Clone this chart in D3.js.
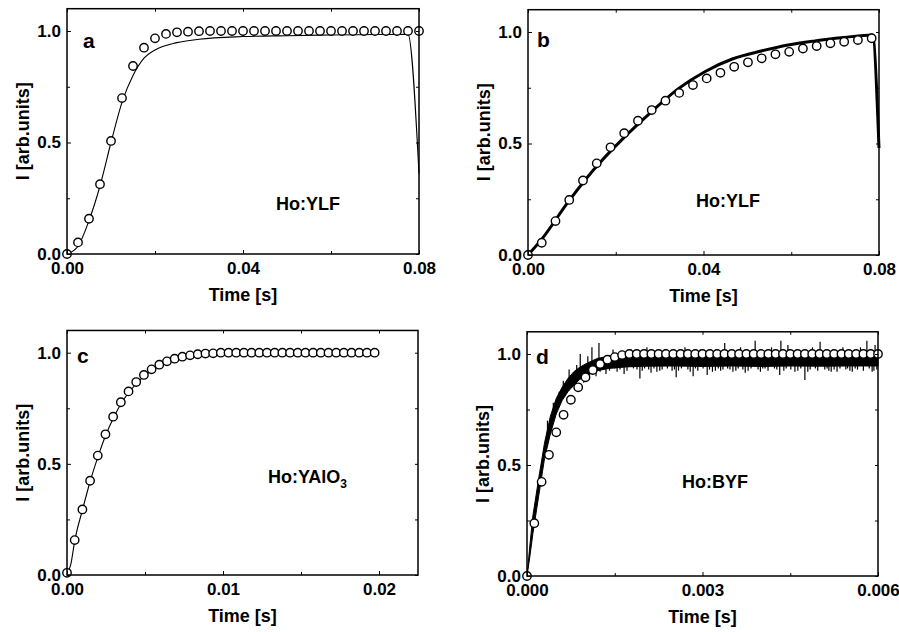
<!DOCTYPE html>
<html>
<head>
<meta charset="utf-8">
<script src="https://cdn.jsdelivr.net/npm/d3@7"></script>
<style>
body { margin: 0; background: #fff; }
svg { display: block; }
text { font-family: 'Liberation Sans', Arial, sans-serif; font-weight: bold; fill: #000; }
</style>
</head>
<body>
<script>
// ---- data ----
var panelLetters = ['a', 'b', 'c', 'd'];
var materials = ['Ho:YLF', 'Ho:YLF', 'Ho:YAlO', 'Ho:BYF'];
var materialSub = ['', '', '3', ''];
var xMax = [0.08, 0.08, 0.0225, 0.006];
var xMajor = [[0, 0.04, 0.08], [0, 0.04, 0.08], [0, 0.01, 0.02], [0, 0.003, 0.006]];
var xMinor = [[0.02, 0.06], [0.02, 0.06], [0.005, 0.015], [0.0015, 0.0045]];
var xFormat = ['.2f', '.2f', '.2f', '.3f'];
var yMajor = [0, 0.5, 1.0];
var yMinor = [0.25, 0.75];

// sampling step of the open circles (s)
var circleStep = [0.0025, 0.003133, 0.000493, 0.000125];

var circlesA = [0, 0.052, 0.158, 0.313, 0.507, 0.699, 0.843, 0.925, 0.967, 0.987, 0.994, 0.997, 0.999,
	1, 1, 1, 1, 1, 1, 1, 1, 1, 1, 1, 1, 1, 1, 1, 1, 1, 1, 1, 1];
var circlesB = [0, 0.055, 0.152, 0.247, 0.334, 0.411, 0.483, 0.546, 0.602, 0.65, 0.692, 0.727, 0.762,
	0.792, 0.817, 0.844, 0.864, 0.882, 0.9, 0.911, 0.926, 0.937, 0.949, 0.956, 0.964, 0.972];
var circlesC = [0.01, 0.157, 0.295, 0.424, 0.537, 0.633, 0.712, 0.777, 0.826, 0.868, 0.9, 0.925, 0.946,
	0.961, 0.973, 0.982, 0.988, 0.993, 0.996, 0.997,
	1, 1, 1, 1, 1, 1, 1, 1, 1, 1, 1, 1, 1, 1, 1, 1, 1, 1, 1, 1, 1];
var circlesD = [0, 0.238, 0.424, 0.546, 0.647, 0.726, 0.794, 0.85, 0.895, 0.928, 0.955, 0.974, 0.986, 0.995,
	1, 1, 1, 1, 1, 1, 1, 1, 1, 1, 1, 1, 1, 1, 1, 1, 1, 1, 1, 1, 1, 1, 1, 1, 1, 1, 1, 1, 1, 1, 1, 1, 1, 1, 1];

// measured traces
var lineAT = [0, 0.0025, 0.005, 0.0075, 0.01, 0.0125, 0.015, 0.0175, 0.02, 0.025, 0.03, 0.04, 0.05, 0.06, 0.07, 0.0775, 0.08];
var lineAV = [0, 0.035, 0.15, 0.305, 0.5, 0.68, 0.8, 0.878, 0.915, 0.948, 0.963, 0.975, 0.979, 0.982, 0.984, 0.985, 0.36];
var lineBT = [0, 0.0031, 0.0092, 0.0153, 0.0217, 0.0282, 0.0342, 0.0403, 0.0467, 0.0532, 0.0593, 0.0654, 0.0719, 0.0785, 0.08];
var lineBV = [0, 0.07, 0.239, 0.39, 0.523, 0.643, 0.745, 0.822, 0.88, 0.915, 0.942, 0.96, 0.975, 0.987, 0.48];
var lineCT = [0, 0.00025, 0.0005, 0.001, 0.0015, 0.002, 0.0025, 0.003, 0.0035, 0.004, 0.005, 0.006, 0.007, 0.008, 0.01, 0.013, 0.0197];
var lineCV = [0, 0.05, 0.155, 0.295, 0.425, 0.535, 0.632, 0.71, 0.775, 0.825, 0.898, 0.945, 0.972, 0.986, 0.996, 1, 1];

// panel d: noisy trace as a band (low/high envelope) plus single spikes
var bandDT = [0, 0.00005, 0.0001, 0.0002, 0.0003, 0.0004, 0.0005, 0.0006, 0.0007, 0.0008, 0.0009, 0.001,
	0.0012, 0.0014, 0.0017, 0.002, 0.0025, 0.003, 0.0035, 0.004, 0.0045, 0.005, 0.0055, 0.006];
var bandDLo = [0, 0.09, 0.19, 0.36, 0.53, 0.64, 0.73, 0.79, 0.83, 0.86, 0.885, 0.9,
	0.925, 0.935, 0.942, 0.945, 0.946, 0.944, 0.946, 0.944, 0.946, 0.945, 0.946, 0.946];
var bandDHi = [0, 0.14, 0.27, 0.44, 0.6, 0.72, 0.8, 0.85, 0.89, 0.92, 0.94, 0.955,
	0.98, 0.99, 0.995, 0.998, 1, 1, 1, 1, 1, 1, 1, 1];
var spikesD = [[0.00035, 0.70], [0.00045, 0.78], [0.00055, 0.83], [0.00062, 0.88], [0.00072, 0.93], [0.00078, 0.85],
	[0.00085, 0.95], [0.00091, 1.0], [0.00097, 0.87], [0.00104, 0.99], [0.00111, 1.03], [0.00118, 0.9], [0.00123, 1.05],
	[0.00135, 0.91], [0.00147, 1.02], [0.00154, 0.92], [0.00166, 0.91], [0.00178, 1.02], [0.00193, 0.89], [0.00205, 1.03],
	[0.00212, 0.915], [0.00222, 0.92], [0.00235, 1.02], [0.00248, 0.925], [0.00255, 0.895], [0.0027, 1.03], [0.00284, 0.9],
	[0.00296, 1.02], [0.00308, 0.905], [0.00322, 0.925], [0.00335, 0.93], [0.00338, 1.05], [0.00352, 0.92], [0.00365, 1.03],
	[0.00373, 0.915], [0.0039, 1.06], [0.00407, 0.935], [0.00418, 1.03], [0.00432, 0.905], [0.00434, 1.06], [0.00446, 1.04],
	[0.00458, 0.92], [0.00475, 0.883], [0.00488, 1.03], [0.00501, 1.055], [0.00509, 0.93], [0.0052, 0.92], [0.00535, 0.935],
	[0.0054, 1.03], [0.00552, 0.925], [0.00561, 0.935], [0.0057, 1.03], [0.00581, 1.06], [0.0059, 0.92], [0.00595, 1.04]];
// short hairs hanging below the band
var hairsD = [[0.00125, 0.92], [0.0013, 0.93], [0.00141, 0.925], [0.0015, 0.935], [0.00159, 0.93], [0.00171, 0.925],
	[0.00182, 0.935], [0.00188, 0.93], [0.00197, 0.925], [0.00201, 0.935], [0.00208, 0.93], [0.00217, 0.935],
	[0.00227, 0.925], [0.00231, 0.93], [0.0024, 0.935], [0.00252, 0.93], [0.00259, 0.925], [0.00264, 0.935],
	[0.00275, 0.93], [0.00279, 0.92], [0.00288, 0.935], [0.00292, 0.925], [0.00301, 0.935], [0.00312, 0.93],
	[0.00317, 0.92], [0.00327, 0.935], [0.00331, 0.925], [0.00343, 0.935], [0.00347, 0.93], [0.00357, 0.925],
	[0.00361, 0.935], [0.00369, 0.93], [0.00378, 0.925], [0.00383, 0.935], [0.00395, 0.93], [0.00399, 0.92],
	[0.00403, 0.935], [0.00412, 0.925], [0.00423, 0.935], [0.00427, 0.93], [0.00439, 0.925], [0.00443, 0.935],
	[0.00451, 0.93], [0.00463, 0.925], [0.00468, 0.935], [0.0048, 0.92], [0.00484, 0.93], [0.00493, 0.935],
	[0.00497, 0.925], [0.00513, 0.935], [0.00516, 0.925], [0.00525, 0.93], [0.0053, 0.92], [0.00545, 0.93],
	[0.00548, 0.935], [0.00556, 0.92], [0.00565, 0.93], [0.00575, 0.925], [0.00585, 0.935], [0.00593, 0.925], [0.00598, 0.93]];

// ---- layout ----
var panels = [
	{ left: 67, right: 419, y0: 254, y1: 31, letter: [16, 39], label: [276, 210] },
	{ left: 528, right: 879, y0: 255, y1: 32, letter: [9, 37], label: [696, 207] },
	{ left: 67, right: 418, y0: 575, y1: 352.7, letter: [10, 33], label: [268, 483] },
	{ left: 527, right: 878, y0: 576, y1: 354, letter: [9, 32], label: [682, 488] }
];
var circles = [circlesA, circlesB, circlesC, circlesD];
var lines = [[lineAT, lineAV, 1.1], [lineBT, lineBV, 3], [lineCT, lineCV, 1.1], null];

var svg = d3
	.select('body')
	.append('svg')
	.attr('width', 899)
	.attr('height', 632);

panels.forEach(function(p, i) {
	var x = d3.scaleLinear().domain([0, xMax[i]]).range([p.left, p.right]);
	var y = d3.scaleLinear().domain([0, 1]).range([p.y0, p.y1]);
	var top = y(1.1);
	var g = svg.append('g');

	// traces
	if (lines[i]) {
		var pts = lines[i][0].map(function(t, k) {
			return [t, lines[i][1][k]];
		});
		g.append('path')
			.datum(pts)
			.attr('fill', 'none')
			.attr('stroke', '#000')
			.attr('stroke-width', lines[i][2])
			.attr('stroke-linejoin', 'round')
			.attr('d', d3.line()
				.x(function(d) { return x(d[0]); })
				.y(function(d) { return y(d[1]); })
				.curve(d3.curveMonotoneX));
	} else {
		var band = bandDT.map(function(t, k) {
			return [t, bandDLo[k], bandDHi[k]];
		});
		g.append('path')
			.datum(band)
			.attr('fill', '#000')
			.attr('stroke', '#000')
			.attr('stroke-width', 1)
			.attr('d', d3.area()
				.x(function(d) { return x(d[0]); })
				.y0(function(d) { return y(d[1]); })
				.y1(function(d) { return y(d[2]); }));
		var mid = d3.scaleLinear()
			.domain(bandDT)
			.range(bandDT.map(function(t, k) { return (bandDLo[k] + bandDHi[k]) / 2; }));
		g.append('g')
			.selectAll('line')
			.data(spikesD.concat(hairsD))
			.enter()
			.append('line')
			.attr('x1', function(d) { return x(d[0]); })
			.attr('x2', function(d) { return x(d[0]); })
			.attr('y1', function(d) { return y(mid(d[0])); })
			.attr('y2', function(d) { return y(d[1]); })
			.attr('stroke', '#000')
			.attr('stroke-width', 1.2);
	}

	// open circles
	g.append('g')
		.selectAll('circle')
		.data(circles[i])
		.enter()
		.append('circle')
		.attr('cx', function(d, k) { return x(k * circleStep[i]); })
		.attr('cy', function(d) { return y(d); })
		.attr('r', 4.2)
		.attr('fill', '#fff')
		.attr('stroke', '#000')
		.attr('stroke-width', 1.4);

	// frame
	g.append('rect')
		.attr('x', p.left)
		.attr('y', top)
		.attr('width', p.right - p.left)
		.attr('height', p.y0 - top)
		.attr('fill', 'none')
		.attr('stroke', '#000')
		.attr('stroke-width', 1.5);

	// axes, ticks pointing inward on all sides
	function axis(gen, vals, size, fmt, pos) {
		var a = g.append('g')
			.attr('transform', pos)
			.call(gen.tickValues(vals).tickSize(-size).tickPadding(8).tickFormat(fmt));
		a.select('.domain').remove();
		a.attr('font-size', 17).attr('font-family', null);
		return a;
	}
	axis(d3.axisBottom(x), xMajor[i], 4, d3.format(xFormat[i]), 'translate(0,' + p.y0 + ')');
	axis(d3.axisBottom(x), xMinor[i], 3, '', 'translate(0,' + p.y0 + ')');
	axis(d3.axisTop(x), xMajor[i].concat(xMinor[i]), 3, '', 'translate(0,' + top + ')');
	axis(d3.axisLeft(y), yMajor, 4, d3.format('.1f'), 'translate(' + p.left + ',0)')
		.selectAll('text').attr('x', -6);
	axis(d3.axisLeft(y), yMinor, 3, '', 'translate(' + p.left + ',0)');
	axis(d3.axisRight(y), yMajor.concat(yMinor), 3, '', 'translate(' + p.right + ',0)');

	// axis titles
	g.append('text')
		.attr('x', (p.left + p.right) / 2)
		.attr('y', p.y0 + 47)
		.attr('text-anchor', 'middle')
		.attr('font-size', 18)
		.text('Time [s]');
	g.append('text')
		.attr('transform', 'translate(' + (p.left - 38) + ',' + ((p.y0 + top) / 2) + ') rotate(-90)')
		.attr('text-anchor', 'middle')
		.attr('font-size', 18)
		.text('I [arb.units]');

	// panel letter and sample name
	g.append('text')
		.attr('x', p.left + p.letter[0])
		.attr('y', top + p.letter[1])
		.attr('font-size', 21)
		.text(panelLetters[i]);
	var lab = g.append('text')
		.attr('x', p.label[0])
		.attr('y', p.label[1])
		.attr('font-size', 18)
		.text(materials[i]);
	if (materialSub[i]) {
		lab.append('tspan')
			.attr('dy', 5)
			.attr('font-size', 12)
			.text(materialSub[i]);
	}
});
</script>
</body>
</html>
